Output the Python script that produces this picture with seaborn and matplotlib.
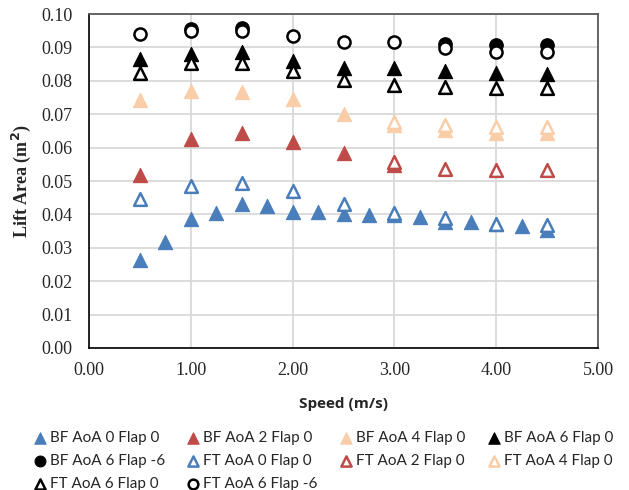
import matplotlib
matplotlib.use("Agg")
import matplotlib.pyplot as plt
import seaborn as sns
import numpy as np

# ---- data ----
speed_bf0 = [0.5, 0.75, 1.0, 1.25, 1.5, 1.75, 2.0, 2.25, 2.5, 2.75, 3.0, 3.25, 3.5, 3.75, 4.0, 4.25, 4.5]
bf_aoa0 = [0.0263, 0.0318, 0.0385, 0.0403, 0.0430, 0.0426, 0.0406, 0.0406, 0.0400, 0.0398, 0.0397,
           0.0393, 0.0378, 0.0376, 0.0370, 0.0364, 0.0352]
speed_bf2 = [0.5, 1.0, 1.5, 2.0, 2.5, 3.0]
bf_aoa2 = [0.0518, 0.0625, 0.0643, 0.0616, 0.0583, 0.0548]
speed_std = [0.5, 1.0, 1.5, 2.0, 2.5, 3.0, 3.5, 4.0, 4.5]
bf_aoa4 = [0.0743, 0.0770, 0.0767, 0.0745, 0.0702, 0.0668, 0.0653, 0.0643, 0.0645]
bf_aoa6 = [0.0864, 0.0879, 0.0885, 0.0859, 0.0837, 0.0839, 0.0830, 0.0822, 0.0820]
speed_bf6f = [1.0, 1.5, 3.5, 4.0, 4.5]
bf_aoa6_flap6 = [0.0955, 0.0957, 0.0909, 0.0907, 0.0907]
ft_aoa0 = [0.0445, 0.0485, 0.0493, 0.0471, 0.0432, 0.0404, 0.0388, 0.0372, 0.0368]
speed_ft24 = [3.0, 3.5, 4.0, 4.5]
ft_aoa2 = [0.0558, 0.0535, 0.0533, 0.0533]
ft_aoa4 = [0.0678, 0.0668, 0.0663, 0.0661]
ft_aoa6 = [0.0824, 0.0852, 0.0852, 0.0830, 0.0802, 0.0787, 0.0781, 0.0778, 0.0778]
ft_aoa6_flap6 = [0.0939, 0.0948, 0.0950, 0.0934, 0.0917, 0.0917, 0.0899, 0.0887, 0.0887]

labels = ["BF AoA 0 Flap 0", "BF AoA 2 Flap 0", "BF AoA 4 Flap 0", "BF AoA 6 Flap 0",
          "BF AoA 6 Flap -6", "FT AoA 0 Flap 0", "FT AoA 2 Flap 0", "FT AoA 4 Flap 0",
          "FT AoA 6 Flap 0", "FT AoA 6 Flap -6"]
x_ticks = [0.0, 1.0, 2.0, 3.0, 4.0, 5.0]
y_ticks = [0.00, 0.01, 0.02, 0.03, 0.04, 0.05, 0.06, 0.07, 0.08, 0.09, 0.10]

BLUE = "#4A7EBB"
RED = "#BE4B48"
PEACH = "#FACDA9"
BLACK = "#000000"

series = [
    (speed_bf0, bf_aoa0, BLUE, "^", True),
    (speed_bf2, bf_aoa2, RED, "^", True),
    (speed_std, bf_aoa4, PEACH, "^", True),
    (speed_std, bf_aoa6, BLACK, "^", True),
    (speed_bf6f, bf_aoa6_flap6, BLACK, "o", True),
    (speed_std, ft_aoa0, BLUE, "^", False),
    (speed_ft24, ft_aoa2, RED, "^", False),
    (speed_ft24, ft_aoa4, PEACH, "^", False),
    (speed_std, ft_aoa6, BLACK, "^", False),
    (speed_std, ft_aoa6_flap6, BLACK, "o", False),
]

sns.set_style("white")
plt.rcParams['font.family'] = ['Liberation Serif', 'DejaVu Serif']

fig = plt.figure(figsize=(6.29, 4.90), dpi=100)
ax = fig.add_axes([89 / 629, 1 - 348 / 490, (598 - 89) / 629, (348 - 14) / 490])

for (xs, ys, c, m, filled), lab in zip(series, labels):
    size = 105 if m == "^" else 95
    if filled:
        sns.scatterplot(x=xs, y=ys, ax=ax, marker=m, s=size, color=c, edgecolor=c,
                        linewidth=0.8, label=lab, zorder=3)
    else:
        sns.scatterplot(x=xs, y=ys, ax=ax, marker=m, s=size * 0.8, color="white",
                        edgecolor=c, linewidth=1.8, label=lab, zorder=4)

handles, labs = ax.get_legend_handles_labels()
if ax.get_legend() is not None:
    ax.get_legend().remove()

ax.set_xlim(0, 5)
ax.set_ylim(0, 0.10)
ax.set_xticks(x_ticks)
ax.set_yticks(y_ticks)
ax.set_xticklabels([f"{v:.2f}" for v in x_ticks], fontsize=13)
ax.set_yticklabels([f"{v:.2f}" for v in y_ticks], fontsize=13)
ax.tick_params(axis="x", length=0, pad=10, colors="#262626")
ax.tick_params(axis="y", length=0, pad=12, colors="#262626")
ax.grid(True, color="#D9D9D9", linewidth=1.3, zorder=0)
ax.set_axisbelow(True)
for s in ["top", "right"]:
    ax.spines[s].set_color("#595959")
    ax.spines[s].set_linewidth(1.3)
for s in ["left", "bottom"]:
    ax.spines[s].set_color("#000000")
    ax.spines[s].set_linewidth(1.2)

ax.set_ylabel("Lift Area (m$^\\mathbf{2}$)", fontsize=13, fontweight="bold", labelpad=6)
ax.set_xlabel("Speed (m/s)", fontsize=11, fontweight="bold", family=["Open Sans", "DejaVu Sans"], labelpad=13)

order = [0, 4, 8, 1, 5, 9, 2, 6, 3, 7]
leg = fig.legend([handles[i] for i in order], [labs[i] for i in order],
                 loc="upper left", bbox_to_anchor=(31 / 629, 1 - 431 / 490), ncol=4, frameon=False,
                 prop={"family": ["Lato", "DejaVu Sans"], "size": 11},
                 handletextpad=0.05, columnspacing=1.25, labelspacing=0.6,
                 handlelength=1.2, markerscale=0.8, borderaxespad=0, borderpad=0)

fig.savefig("out.png", dpi=100)
